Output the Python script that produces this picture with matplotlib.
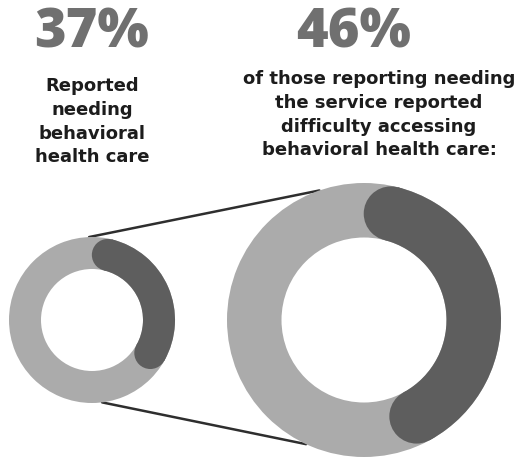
import numpy as np
import matplotlib
matplotlib.use("Agg")
import matplotlib.pyplot as plt
from matplotlib.patches import Wedge, Circle

pct_values = [37, 46]
pct_labels = ["37%", "46%"]
captions = [
    "Reported\nneeding\nbehavioral\nhealth care",
    "of those reporting needing\nthe service reported\ndifficulty accessing\nbehavioral health care:",
]

W, H = 522, 459
LIGHT = "#ababab"
DARK = "#5e5e5e"
PCT_COLOR = "#707070"
TEXT_COLOR = "#1c1c1c"

# layout (pixel coords, y measured from top)
centers = [(92, 320), (364, 320)]
outer_r = [83, 137]
inner_r = [51, 82.5]
pct_pos = [(91, 47), (354, 47)]
caption_x = [92, 379]
caption_top = [91, 84]
line_gap = 23.8


def fy(y):
    return H - y


fig = plt.figure(figsize=(W / 100, H / 100), dpi=100)
ax = fig.add_axes([0, 0, 1, 1])
ax.set_xlim(0, W)
ax.set_ylim(0, H)
ax.axis("off")

# connector lines between the two rings
def on_circle(i, deg):
    cx, cy = centers[i]
    a = np.radians(deg)
    return cx + outer_r[i] * np.cos(a), fy(cy) + outer_r[i] * np.sin(a)

for a_small, a_big in [(92, 109), (-83, -115)]:
    x0, y0 = on_circle(0, a_small)
    x1, y1 = on_circle(1, a_big)
    ax.plot([x0, x1], [y0, y1], color="#2e2e2e", lw=1.8, zorder=1,
            solid_capstyle="round")

for i, pct in enumerate(pct_values):
    cx, cy = centers[i][0], fy(centers[i][1])
    ro, ri = outer_r[i], inner_r[i]
    width = ro - ri
    mid = (ro + ri) / 2
    ax.add_patch(Wedge((cx, cy), ro, 0, 360, width=width,
                       facecolor=LIGHT, edgecolor="none", zorder=2))
    # dark arc clockwise from 12 o'clock, round ends included in the share
    span = pct / 100 * 360
    cap = np.degrees((width / 2) / mid)
    t_end = 90 - cap
    t_start = 90 - span + cap
    ax.add_patch(Wedge((cx, cy), ro, t_start, t_end, width=width,
                       facecolor=DARK, edgecolor="none", zorder=3))
    for t in (t_start, t_end):
        a = np.radians(t)
        ax.add_patch(Circle((cx + mid * np.cos(a), cy + mid * np.sin(a)),
                            width / 2, facecolor=DARK, edgecolor="none",
                            zorder=3))

    px, py = pct_pos[i]
    ax.text(px, fy(py), pct_labels[i], ha="center", va="baseline",
            fontsize=39, fontweight="heavy", family="Open Sans",
            color=PCT_COLOR)

    for k, line in enumerate(captions[i].split("\n")):
        ax.text(caption_x[i], fy(caption_top[i] + k * line_gap), line,
                ha="center", va="baseline", fontsize=13,
                fontweight="bold", family="DejaVu Sans", color=TEXT_COLOR)

fig.savefig("out.png", dpi=100)
